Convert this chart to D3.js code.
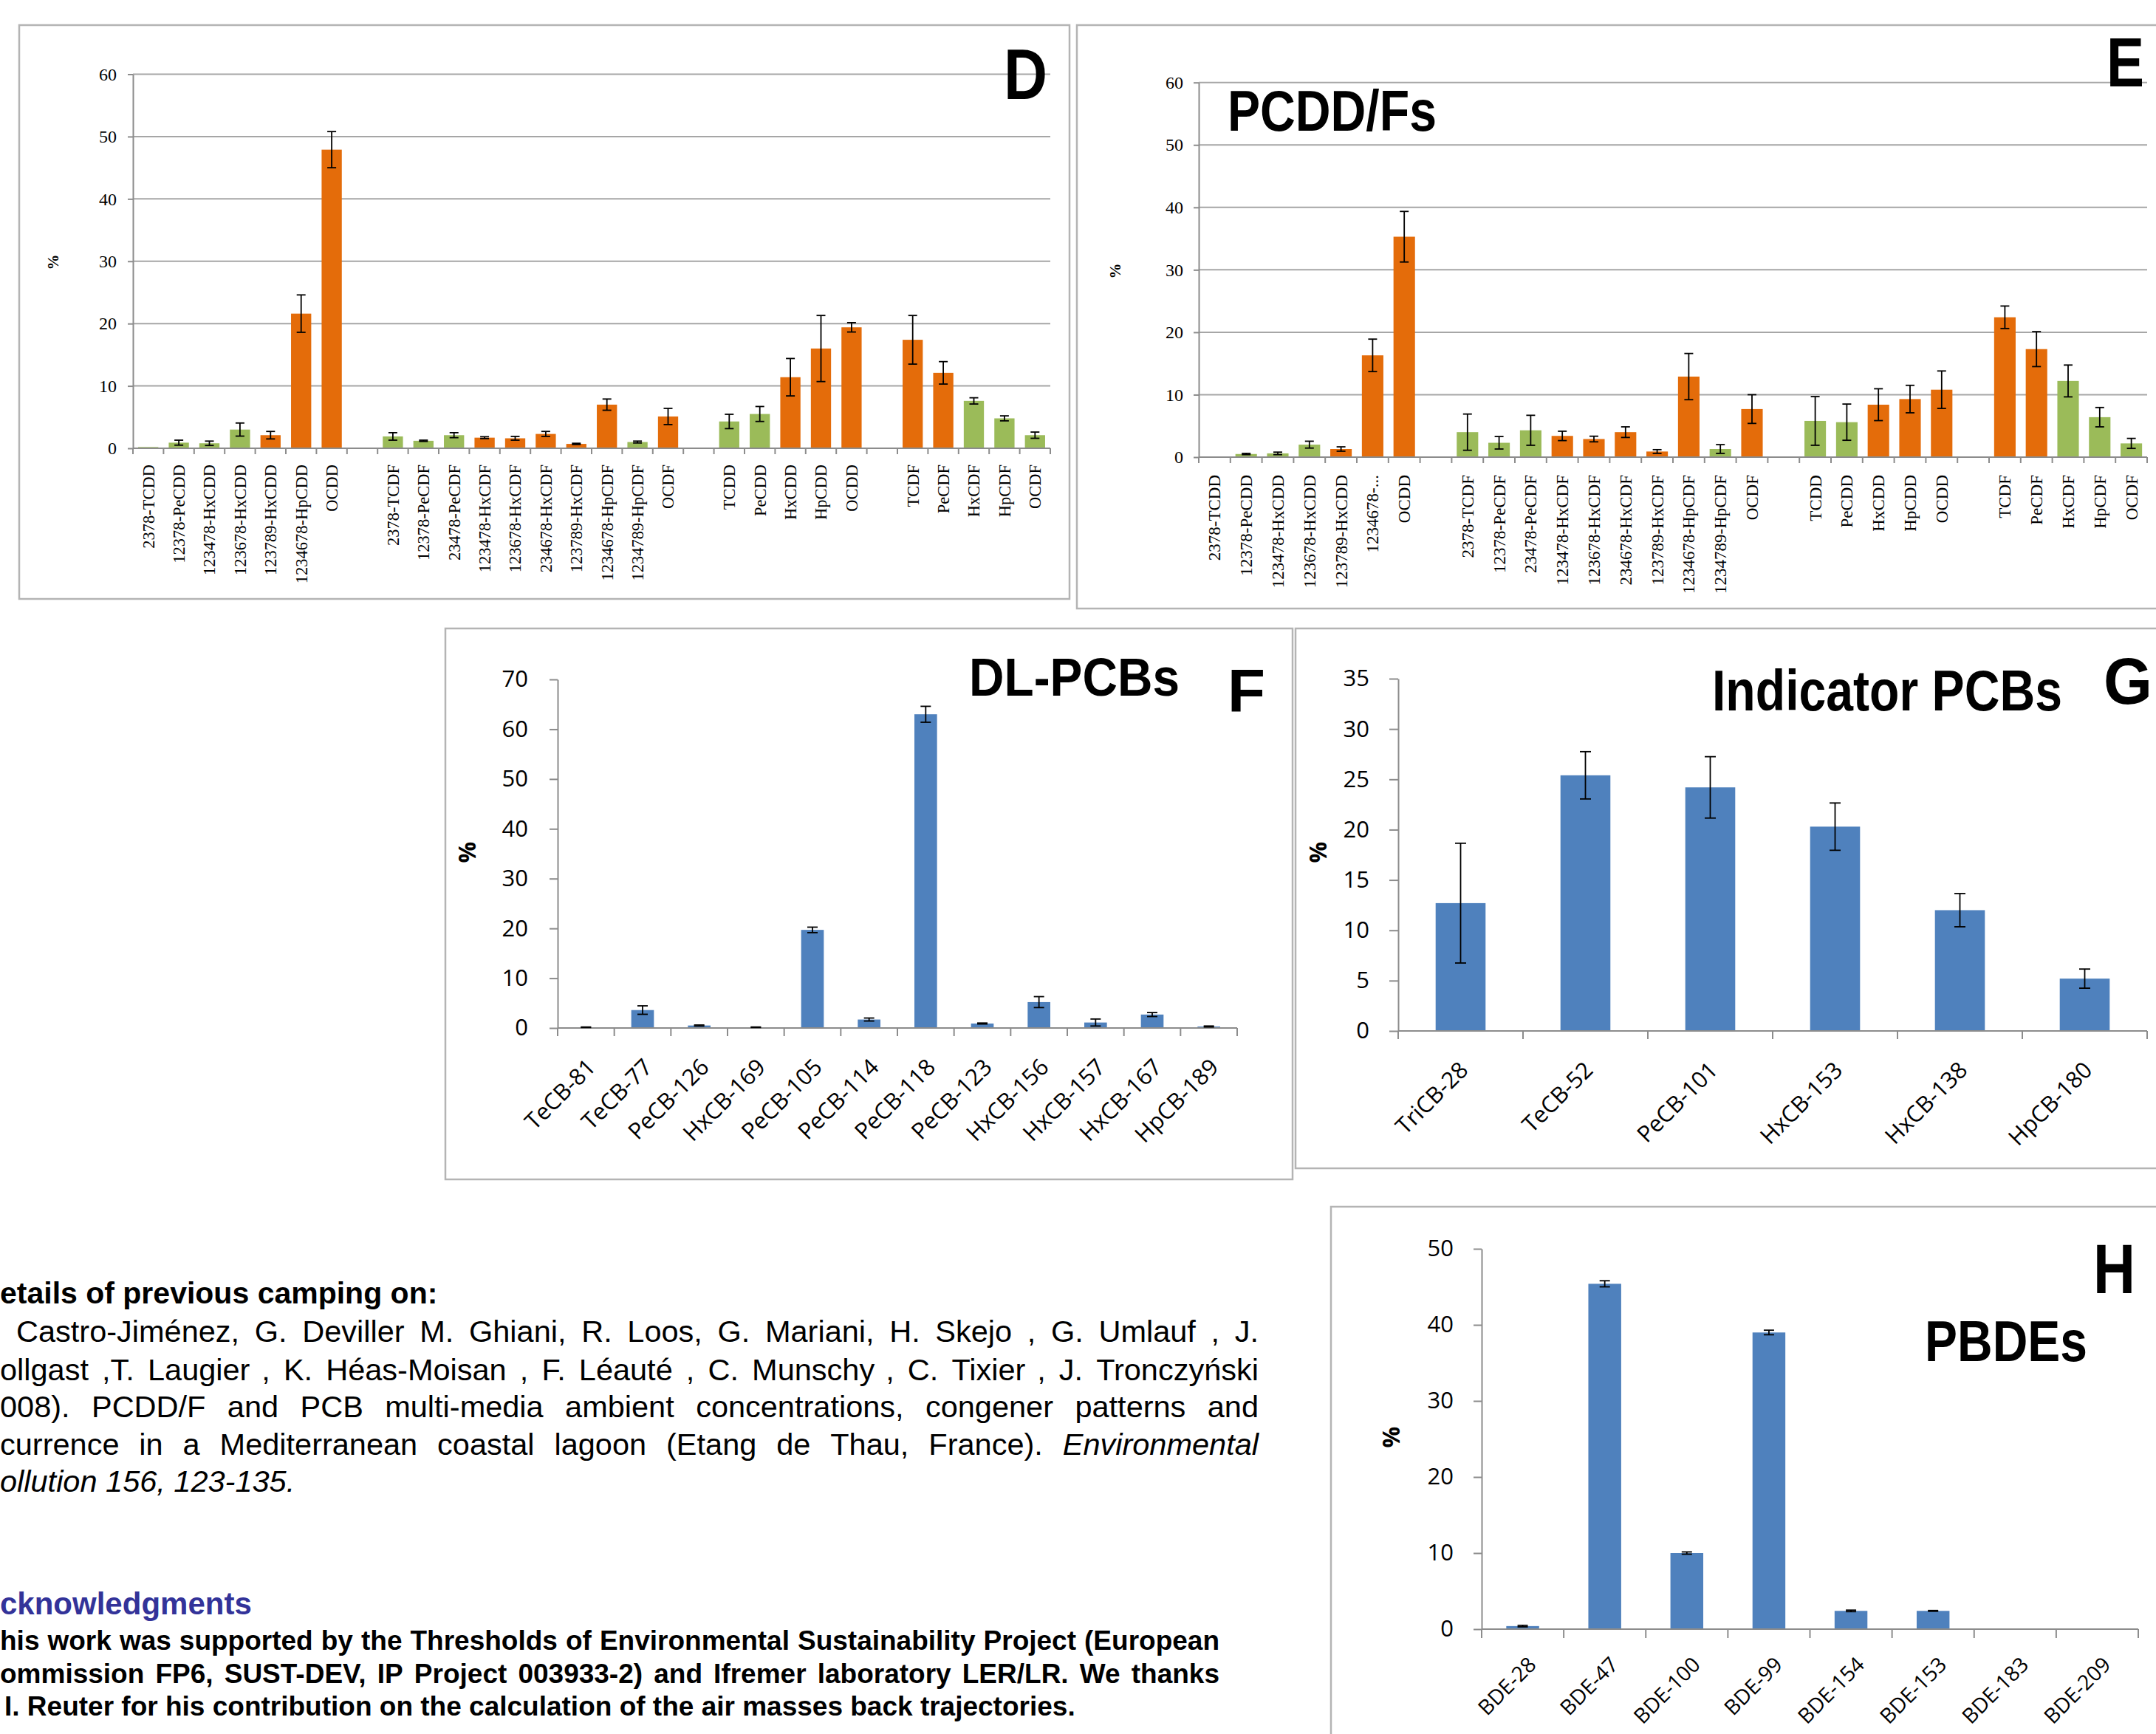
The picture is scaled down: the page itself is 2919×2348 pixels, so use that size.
<!DOCTYPE html>
<html>
<head>
<meta charset="utf-8">
<script src="https://cdn.jsdelivr.net/npm/d3@7"></script>
<style>
  body { margin: 0; background: #fff; }
  svg { display: block; }
</style>
</head>
<body>
<svg id="fig" width="2919" height="2348"></svg>
<script>
// ---- data ----
var dioxinGroups = [
    ["2378-TCDD", "12378-PeCDD", "123478-HxCDD", "123678-HxCDD", "123789-HxCDD", "1234678-HpCDD", "OCDD"],
    ["2378-TCDF", "12378-PeCDF", "23478-PeCDF", "123478-HxCDF", "123678-HxCDF", "234678-HxCDF", "123789-HxCDF", "1234678-HpCDF", "1234789-HpCDF", "OCDF"],
    ["TCDD", "PeCDD", "HxCDD", "HpCDD", "OCDD"],
    ["TCDF", "PeCDF", "HxCDF", "HpCDF", "OCDF"]
];
// g = green bar, o = orange bar (same order as the flattened groups)
var dioxinClass = ["g", "g", "g", "g", "o", "o", "o",
    "g", "g", "g", "o", "o", "o", "o", "o", "g", "o",
    "g", "g", "o", "o", "o",
    "o", "o", "g", "g", "g"];

var dMean = [0.2, 0.9, 0.8, 3.0, 2.1, 21.6, 47.9,
    1.9, 1.2, 2.1, 1.7, 1.6, 2.3, 0.7, 7.0, 1.0, 5.1,
    4.3, 5.5, 11.4, 16.0, 19.4,
    17.4, 12.1, 7.6, 4.8, 2.1];
var dErr = [0, 0.4, 0.35, 1.05, 0.6, 3.0, 2.9,
    0.6, 0.1, 0.4, 0.15, 0.3, 0.4, 0.1, 0.9, 0.15, 1.3,
    1.15, 1.2, 3.0, 5.3, 0.75,
    3.9, 1.8, 0.5, 0.4, 0.5];

var eMean = [0.1, 0.5, 0.6, 2.0, 1.3, 16.3, 35.3,
    4.0, 2.3, 4.3, 3.4, 2.9, 4.0, 0.9, 12.9, 1.3, 7.7,
    5.8, 5.6, 8.4, 9.3, 10.8,
    22.4, 17.3, 12.2, 6.4, 2.2];
var eErr = [0, 0.1, 0.2, 0.55, 0.35, 2.6, 4.05,
    2.9, 1.0, 2.4, 0.75, 0.45, 0.85, 0.3, 3.7, 0.7, 2.3,
    3.9, 2.9, 2.55, 2.2, 3.0,
    1.8, 2.8, 2.55, 1.55, 0.8];

var dTicks = [0, 10, 20, 30, 40, 50, 60];

var fCats = ["TeCB-81", "TeCB-77", "PeCB-126", "HxCB-169", "PeCB-105", "PeCB-114", "PeCB-118", "PeCB-123", "HxCB-156", "HxCB-157", "HxCB-167", "HpCB-189"];
var fMean = [0.15, 3.6, 0.5, 0.15, 19.7, 1.7, 63.0, 0.9, 5.2, 1.1, 2.7, 0.3];
var fErr = [0.05, 0.85, 0.1, 0.05, 0.55, 0.3, 1.6, 0.1, 1.1, 0.7, 0.4, 0.1];
var fTicks = [0, 10, 20, 30, 40, 50, 60, 70];

var gCats = ["TriCB-28", "TeCB-52", "PeCB-101", "HxCB-153", "HxCB-138", "HpCB-180"];
var gMean = [12.7, 25.4, 24.2, 20.3, 12.0, 5.2];
var gErr = [5.95, 2.35, 3.05, 2.35, 1.65, 0.95];
var gTicks = [0, 5, 10, 15, 20, 25, 30, 35];

var hCats = ["BDE-28", "BDE-47", "BDE-100", "BDE-99", "BDE-154", "BDE-153", "BDE-183", "BDE-209"];
var hMean = [0.4, 45.4, 10.0, 39.0, 2.4, 2.4, 0, 0];
var hErr = [0.1, 0.4, 0.15, 0.3, 0.1, 0.05, 0, 0];
var hTicks = [0, 10, 20, 30, 40, 50];

// ---- styles ----
var GREEN = "#9bbb59", ORANGE = "#e46c0a", BLUE = "#4f81bd";
var AXIS = "#8c8c8c", GRID = "#a6a6a6", FRAME = "#b4b4b4";
var SERIF = "'Liberation Serif', serif", SANS = "'Liberation Sans', Arial, sans-serif",
    CAL = "'Open Sans', sans-serif";

var svg = d3.select("#fig");

function flatSlots(groups, means, errs, cls, rename) {
    var slots = [], k = 0;
    groups.forEach(function(grp, gi) {
        if (gi > 0) slots.push(null);
        grp.forEach(function(name) {
            slots.push({ label: (rename && rename[k]) || name, v: means[k], e: errs[k], c: cls[k] });
            k++;
        });
    });
    return slots;
}

function simpleSlots(cats, means, errs) {
    return cats.map(function(c, i) { return { label: c, v: means[i], e: errs[i], c: "b" }; });
}

function panel(p) {
    var g = svg.append("g");
    var n = p.slots.length;
    var xb = d3.scaleLinear().domain([0, n]).range([p.x0, p.x1]);
    var y = d3.scaleLinear().domain([0, p.ticks[p.ticks.length - 1]]).range([p.y0, p.yTop]);
    var bw = (p.x1 - p.x0) / n;

    if (p.grid) {
        g.append("g").selectAll("line")
            .data(p.ticks.filter(function(t) { return t > 0; }))
            .enter().append("line")
            .attr("x1", p.x0).attr("x2", p.x1)
            .attr("y1", y).attr("y2", y)
            .attr("stroke", GRID).attr("stroke-width", 2);
    }

    var ya = g.append("g")
        .attr("transform", "translate(" + p.x0 + ",0)")
        .call(d3.axisLeft(y).tickValues(p.ticks).tickSize(p.yTick).tickSizeOuter(0).tickPadding(p.yPad));
    ya.select(".domain").attr("stroke", AXIS).attr("stroke-width", 2);
    ya.selectAll(".tick line").attr("stroke", AXIS).attr("stroke-width", 2);
    ya.selectAll(".tick text")
        .attr("font-family", p.font).attr("font-size", p.fontSize).attr("fill", "#000");

    var items = [];
    p.slots.forEach(function(s, i) { if (s) items.push(Object.assign({ i: i }, s)); });

    g.selectAll("rect.bar").data(items).enter().append("rect")
        .attr("class", "bar")
        .attr("x", function(d) { return xb(d.i + 0.5) - bw * p.barFrac / 2; })
        .attr("width", bw * p.barFrac)
        .attr("y", function(d) { return y(d.v); })
        .attr("height", function(d) { return y(0) - y(d.v); })
        .attr("fill", function(d) { return d.c === "o" ? ORANGE : d.c === "g" ? GREEN : BLUE; });

    // x axis line and category boundary ticks
    g.append("line").attr("x1", p.x0).attr("x2", p.x1).attr("y1", p.y0).attr("y2", p.y0)
        .attr("stroke", AXIS).attr("stroke-width", 2);
    g.append("g").selectAll("line").data(d3.range(n + 1)).enter().append("line")
        .attr("x1", function(i) { return xb(i); }).attr("x2", function(i) { return xb(i); })
        .attr("y1", p.y0).attr("y2", p.y0 + p.xTick)
        .attr("stroke", AXIS).attr("stroke-width", 2);

    // error bars
    var eb = g.selectAll("g.err").data(items.filter(function(d) { return d.e > 0; }))
        .enter().append("g").attr("class", "err")
        .attr("stroke", "#000").attr("stroke-width", 1.8);
    eb.append("line")
        .attr("x1", function(d) { return xb(d.i + 0.5); }).attr("x2", function(d) { return xb(d.i + 0.5); })
        .attr("y1", function(d) { return y(d.v + d.e); }).attr("y2", function(d) { return y(Math.max(0, d.v - d.e)); });
    [1, -1].forEach(function(sgn) {
        eb.append("line")
            .attr("x1", function(d) { return xb(d.i + 0.5) - p.cap / 2; })
            .attr("x2", function(d) { return xb(d.i + 0.5) + p.cap / 2; })
            .attr("y1", function(d) { return y(Math.max(0, d.v - sgn * d.e)); })
            .attr("y2", function(d) { return y(Math.max(0, d.v - sgn * d.e)); });
    });

    // category labels
    var lab = g.selectAll("text.cat").data(items).enter().append("text")
        .attr("class", "cat")
        .attr("font-family", p.font).attr("font-size", p.labSize)
        .attr("text-anchor", "end")
        .text(function(d) { return d.label; });
    if (p.vertical) {
        lab.attr("dy", "0.35em")
            .attr("transform", function(d) {
                return "translate(" + xb(d.i + 0.5) + "," + (p.y0 + p.labDy) + ") rotate(-90)";
            });
    } else {
        lab.attr("transform", function(d) {
            return "translate(" + (xb(d.i + 0.5) + p.labDx) + "," + (p.y0 + p.labDy) + ") rotate(-45)";
        });
    }

    // y title
    g.append("text")
        .attr("transform", "translate(" + p.pctX + "," + p.pctY + ") rotate(-90)")
        .attr("dy", "0.35em").attr("text-anchor", "middle")
        .attr("font-family", p.pctFont).attr("font-size", p.pctSize).attr("font-weight", "bold")
        .text("%");
}

function frame(x, y, w, h) {
    svg.append("rect").attr("x", x).attr("y", y).attr("width", w).attr("height", h)
        .attr("fill", "none").attr("stroke", FRAME).attr("stroke-width", 2.5);
}

// bold panel titles, squeezed horizontally to the reference width
function title(str, x, y, size, len, anchor) {
    var t = svg.append("text")
        .attr("font-family", SANS).attr("font-weight", "bold").attr("font-size", size)
        .attr("text-anchor", anchor || "start")
        .text(str);
    var sx = len / t.node().getComputedTextLength();
    t.attr("transform", "translate(" + x + "," + y + ") scale(" + sx + ",1)");
}

// ---- frames ----
frame(26, 34, 1422, 777);
frame(1458, 34, 1520, 790);
frame(603, 851, 1147, 746);
frame(1754, 851, 1220, 731);
frame(1802, 1634, 1200, 800);

// ---- D ----
panel({
    slots: flatSlots(dioxinGroups, dMean, dErr, dioxinClass),
    x0: 180, x1: 1422, y0: 607, yTop: 100.5, ticks: dTicks, grid: true,
    yTick: 7, yPad: 15, font: SERIF, fontSize: 24, labSize: 22.5,
    barFrac: 0.66, cap: 12, xTick: 8, vertical: true, labDy: 22,
    pctX: 72, pctY: 355, pctFont: SERIF, pctSize: 21
});

// ---- E ----
var eRename = [];
eRename[5] = "1234678-...";
panel({
    slots: flatSlots(dioxinGroups, eMean, eErr, dioxinClass, eRename),
    x0: 1623, x1: 2907, y0: 619, yTop: 111.7, ticks: dTicks, grid: true,
    yTick: 7, yPad: 14, font: SERIF, fontSize: 24, labSize: 23,
    barFrac: 0.68, cap: 12, xTick: 8, vertical: true, labDy: 24,
    pctX: 1510, pctY: 367, pctFont: SERIF, pctSize: 21
});

// ---- F ----
panel({
    slots: simpleSlots(fCats, fMean, fErr),
    x0: 755, x1: 1675, y0: 1392, yTop: 920, ticks: fTicks, grid: false,
    yTick: 11, yPad: 29, font: CAL, fontSize: 31, labSize: 31,
    barFrac: 0.4, cap: 14, xTick: 11, vertical: false, labDx: 15, labDy: 55,
    pctX: 633, pctY: 1154, pctFont: CAL, pctSize: 32
});

// ---- G ----
panel({
    slots: simpleSlots(gCats, gMean, gErr),
    x0: 1893, x1: 2907, y0: 1396, yTop: 919, ticks: gTicks, grid: false,
    yTick: 12, yPad: 27, font: CAL, fontSize: 31, labSize: 31,
    barFrac: 0.4, cap: 15, xTick: 11, vertical: false, labDx: 12, labDy: 55,
    pctX: 1785, pctY: 1154, pctFont: CAL, pctSize: 32
});

// ---- H ----
panel({
    slots: simpleSlots(hCats, hMean, hErr),
    x0: 2006, x1: 2895, y0: 2206, yTop: 1691, ticks: hTicks, grid: false,
    yTick: 11, yPad: 27, font: CAL, fontSize: 31, labSize: 28.5,
    barFrac: 0.4, cap: 14, xTick: 12, vertical: false, labDx: 20, labDy: 50,
    pctX: 1884, pctY: 1946, pctFont: CAL, pctSize: 32
});

// ---- panel titles ----
title("D", 1418, 134, 96, 59, "end");
title("E", 2852, 117, 94, 51);
title("PCDD/Fs", 1662, 177, 78, 283);
title("DL-PCBs", 1312, 942, 73, 285);
title("F", 1662, 964, 81, 51);
title("Indicator PCBs", 2318, 962, 78, 474);
title("G", 2848, 953, 88, 66);
title("H", 2834, 1751, 95, 57);
title("PBDEs", 2606, 1843, 78, 220);

// ---- text block ----
function textLine(parts, x, y, width, size, weight, color, justify) {
    var t = svg.append("text").attr("y", y)
        .attr("font-family", SANS).attr("font-size", size)
        .attr("font-weight", weight).attr("fill", color);
    var words = [];
    parts.forEach(function(p) {
        p[0].split(" ").forEach(function(w) { words.push({ w: w, it: p[1] }); });
    });
    var spans = t.selectAll("tspan").data(words).enter().append("tspan")
        .attr("font-style", function(d) { return d.it ? "italic" : "normal"; })
        .text(function(d) { return d.w; });
    var widths = spans.nodes().map(function(nd) { return nd.getComputedTextLength(); });
    var gap = justify ? (width - d3.sum(widths)) / (words.length - 1) : size * 0.278;
    var cx = x;
    spans.attr("x", function(d, i) { var v = cx; cx += widths[i] + gap; return v; });
}

var citeHead = "etails of previous camping on:";
var citeLines = [
    [["Castro-Jiménez, G. Deviller M. Ghiani, R. Loos, G. Mariani, H. Skejo , G. Umlauf , J.", false]],
    [["ollgast ,T. Laugier , K. Héas-Moisan , F. Léauté , C. Munschy , C. Tixier , J. Tronczyński", false]],
    [["008). PCDD/F and PCB multi-media ambient concentrations, congener patterns and", false]],
    [["currence in a Mediterranean coastal lagoon (Etang de Thau, France).", false], ["Environmental", true]],
    [["ollution 156, 123-135.", true]]
];
var ackHead = "cknowledgments";
var ackLines = [
    "his work was supported by the Thresholds of Environmental Sustainability Project (European",
    "ommission FP6, SUST-DEV, IP Project 003933-2) and Ifremer laboratory LER/LR. We thanks",
    "I. Reuter for his contribution on the calculation of the air masses back trajectories."
];

textLine([[citeHead, false]], 0, 1765, 0, 41, "bold", "#000", false);
var citeY = [1817, 1869, 1919, 1970, 2020];
citeLines.forEach(function(l, i) {
    textLine(l, i === 0 ? 22 : 0, citeY[i], i === 0 ? 1682 : 1704, 41.5, "normal", "#000", i < 4);
});
textLine([[ackHead, false]], 0, 2186, 0, 42, "bold", "#333399", false);
var ackY = [2234, 2279, 2323];
ackLines.forEach(function(l, i) {
    textLine([[l, false]], i === 2 ? 6 : 0, ackY[i], 1651, 37, "bold", "#000", i < 2);
});
</script>
</body>
</html>
